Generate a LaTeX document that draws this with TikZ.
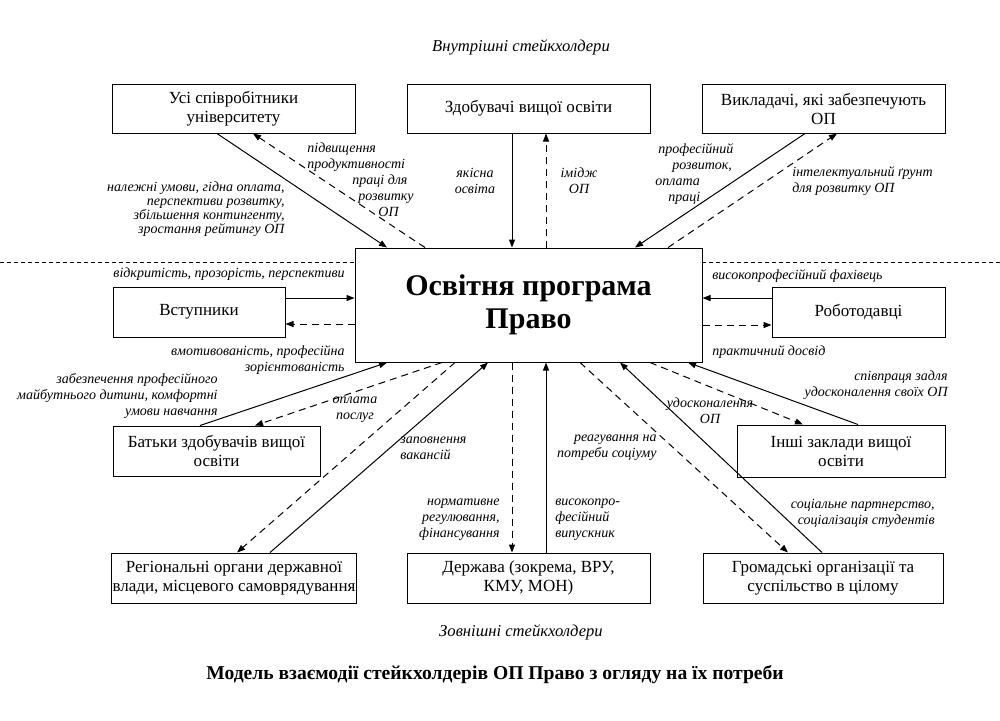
\documentclass[tikz,border=0pt]{standalone}
\usepackage{fontspec}
\setmainfont{Liberation Serif}
\usetikzlibrary{arrows.meta, positioning}

\tikzset{
    % Box styles - thin black frames
    stakeholder/.style={
        rectangle,
        draw=black,
        line width=0.5pt,
        minimum width=121.5pt,
        minimum height=24.5pt,
        inner sep=0.5pt,
        align=center,
        font=\fontsize{8.5}{9.5}\selectfont
    },
    programbox/.style={
        rectangle,
        draw=black,
        line width=0.5pt,
        minimum width=173.5pt,
        minimum height=57pt,
        align=center,
        font=\fontsize{15}{16.5}\selectfont\bfseries
    },
    % Text styles
    note/.style={
        inner sep=0pt,
        font=\fontsize{7}{8}\selectfont\itshape
    },
    grouptitle/.style={
        inner sep=0pt,
        font=\fontsize{8.3}{9}\selectfont\itshape
    },
    % Arrow styles - straight lines only
    arrow/.style={
        -{Triangle[length=4pt,width=3pt]},
        line width=0.5pt,
        draw=black
    },
    dashedarrow/.style={
        -{Triangle[length=4pt,width=3pt]},
        line width=0.5pt,
        draw=black,
        dash pattern=on 3.5pt off 2.5pt
    },
    sepline/.style={
        line width=0.4pt,
        draw=black,
        dash pattern=on 2pt off 1.5pt
    }
}

\begin{document}
\begin{tikzpicture}[x=0.5pt, y=-0.5pt]
    \useasboundingbox (0,0) rectangle (1000,720);

    \node[grouptitle] (inner) at (521,47) {Внутрішні стейкхолдери};

    % Internal stakeholders
    \node[stakeholder] (staff) at (233.5,108.5) {Усі співробітники\\університету};
    \node[stakeholder] (students) at (528.5,108.5) {Здобувачі вищої освіти};
    \node[stakeholder] (teachers) at (823.5,108.5) {Викладачі, які забезпечують\\ОП};

    \node[programbox] (program) at (528.5,305) {Освітня програма\\Право};

    % Separator
    \coordinate (sepL) at (0,262);
    \coordinate (sepR) at (1000,262);
    \draw[sepline] (sepL) -- (sepL -| program.west);
    \draw[sepline] (sepR) -- (sepR -| program.east);

    % External stakeholders
    \node[stakeholder, minimum width=86pt, minimum height=25pt] (entrants) at (199,312) {Вступники};
    \node[stakeholder, minimum width=86.5pt, minimum height=25pt] (employers) at (858.5,312) {Роботодавці};
    \node[stakeholder, minimum width=103.5pt, minimum height=25pt] (parents) at (216.5,451) {Батьки здобувачів вищої\\освіти};
    \node[stakeholder, minimum width=104pt, minimum height=26pt] (others) at (841,451) {Інші заклади вищої\\освіти};
    \node[stakeholder, minimum width=121pt, minimum height=25pt] (regional) at (234,578) {Регіональні органи державної\\влади, місцевого самоврядування};
    \node[stakeholder, minimum height=25pt] (state) at (528.5,578) {Держава (зокрема, ВРУ,\\КМУ, МОН)};
    \node[stakeholder, minimum width=120pt, minimum height=25pt] (public) at (823,578) {Громадські організації та\\суспільство в цілому};

    \node[grouptitle] (outer) at (521,632) {Зовнішні стейкхолдери};
    \node[font=\fontsize{9.8}{11}\selectfont\bfseries, inner sep=0pt] (caption) at (495,675)
        {Модель взаємодії стейкхолдерів ОП Право з огляду на їх потреби};

    % Top connectors
    \draw[arrow] ([xshift=-8.25pt]staff.south) -- ([xshift=-70.75pt]program.north);
    \draw[dashedarrow] ([xshift=-51.75pt]program.north) -- ([xshift=9.75pt]staff.south);
    \draw[arrow] ([xshift=-8.25pt]students.south) -- ([xshift=-8.25pt]program.north);
    \draw[dashedarrow] ([xshift=8.75pt]program.north) -- ([xshift=8.75pt]students.south);
    \draw[arrow] ([xshift=-9.25pt]teachers.south) -- ([xshift=53.25pt]program.north);
    \draw[dashedarrow] ([xshift=69.75pt]program.north) -- ([xshift=6.75pt]teachers.south);

    % Side connectors
    \draw[arrow] ([yshift=7pt]entrants.east) -- ([yshift=7pt]entrants.east -| program.west);
    \draw[dashedarrow] ([yshift=-6pt]entrants.east -| program.west) -- ([yshift=-6pt]entrants.east);
    \draw[arrow] ([yshift=7pt]employers.west) -- ([yshift=7pt]employers.west -| program.east);
    \draw[dashedarrow] ([yshift=-6.5pt]employers.west -| program.east) -- ([yshift=-6.5pt]employers.west);

    % Bottom connectors
    \draw[arrow] ([xshift=-8.25pt]parents.north) -- ([xshift=-70.75pt]program.south);
    \draw[dashedarrow] ([xshift=-43.25pt]program.south) -- ([xshift=19.25pt]parents.north);
    \draw[arrow] ([xshift=18pt]regional.north) -- ([xshift=-20.25pt]program.south);
    \draw[dashedarrow] ([xshift=-36.75pt]program.south) -- ([xshift=1.5pt]regional.north);
    \draw[dashedarrow] ([xshift=-8.25pt]program.south) -- ([xshift=-8.25pt]state.north);
    \draw[arrow] ([xshift=8.75pt]state.north) -- ([xshift=8.75pt]program.south);
    \draw[dashedarrow] ([xshift=25.75pt]program.south) -- ([xshift=-17.5pt]public.north);
    \draw[arrow] ([xshift=-0.5pt]public.north) -- ([xshift=45.75pt]program.south);
    \draw[dashedarrow] ([xshift=60.75pt]program.south) -- ([xshift=-19pt]others.north);
    \draw[arrow] ([xshift=8.5pt]others.north) -- ([xshift=79.75pt]program.south);

    % Connector labels
    \node[note, align=right, anchor=east, font=\fontsize{7}{7}\selectfont\itshape] (lblConditions) at (285,209)
        {належні умови, гідна оплата,\\перспективи розвитку,\\збільшення контингенту,\\зростання рейтингу ОП};
    \node[note, align=left, anchor=west] (lblProductivity) at (307,180)
        {підвищення\\продуктивності\\\hspace*{22.5pt}праці для\\\hspace*{25.5pt}розвитку\\\hspace*{35.5pt}ОП};
    \node[note, align=center] (lblQuality) at (475,181) {якісна\\освіта};
    \node[note, align=center] (lblImage) at (579,181) {імідж\\ОП};
    \node[note, align=left, anchor=west] (lblGrowth) at (655,174)
        {\hspace*{1.5pt}професійний\\\hspace*{8.5pt}розвиток,\\оплата\\\hspace*{6.5pt}праці};
    \node[note, align=left, anchor=west] (lblGround) at (792,181) {інтелектуальний ґрунт\\для розвитку ОП};
    \node[note, anchor=east] (lblOpen) at (345,274) {відкритість, прозорість, перспективи};
    \node[note, align=right, anchor=east] (lblMotive) at (345,360) {вмотивованість, професійна\\зорієнтованість};
    \node[note, anchor=west] (lblExpert) at (712,276) {високопрофесійний фахівець};
    \node[note, anchor=west] (lblPractice) at (712,352) {практичний досвід};
    \node[note, align=right, anchor=east] (lblFuture) at (218,396)
        {забезпечення професійного\\майбутнього дитини, комфортні\\умови навчання};
    \node[note, align=center] (lblPayment) at (355,410) {оплата\\послуг};
    \node[note, align=left, anchor=west] (lblVacancy) at (400,448) {заповнення\\вакансій};
    \node[note, align=right, anchor=east] (lblSociety) at (657,448) {реагування на\\потреби соціуму};
    \node[note, align=center] (lblImprove) at (710,411) {удосконалення\\ОП};
    \node[note, align=right, anchor=east] (lblCooperation) at (948,385) {співпраця задля\\удосконалення своїх ОП};
    \node[note, align=right, anchor=east] (lblRegulation) at (500,520) {нормативне\\регулювання,\\фінансування};
    \node[note, align=left, anchor=west] (lblGraduate) at (555,520) {високопро-\\фесійний\\випускник};
    \node[note, align=right, anchor=east] (lblPartnership) at (935,513) {соціальне партнерство,\\соціалізація студентів};
\end{tikzpicture}
\end{document}
